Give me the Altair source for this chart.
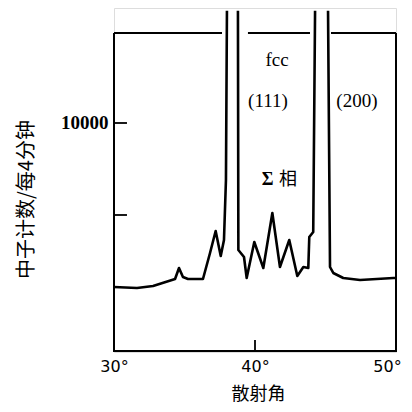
import altair as alt
import pandas as pd

# Curve (scattering angle in degrees, neutron counts per 4 min)
angle = [30.00, 31.63, 32.77, 34.11, 34.33, 34.61, 34.89, 35.25, 36.31, 36.81,
         37.21, 37.57, 37.80, 37.94, 38.01, 38.79, 38.82, 39.22, 39.41, 39.95,
         40.59, 41.23, 41.77, 42.43, 43.00, 43.43, 43.78, 43.85, 44.13, 44.26,
         45.18, 45.32, 45.55, 46.26, 47.45, 49.81, 50.00]
counts = [1087, 1033, 1141, 1467, 1522, 2120, 1630, 1522, 1522, 2935,
          4130, 2772, 3641, 6902, 16100, 16100, 3098, 2717, 1576, 3533,
          2120, 5109, 2174, 3641, 1685, 2174, 2120, 3804, 4076, 16100,
          16100, 2174, 1848, 1576, 1467, 1576, 1576]
# the (111) and (200) peaks run off the top, so the trace is drawn in 3 pieces
segment = [1] * 15 + [2] * 15 + [3] * 7

x_ticks = [30, 40, 50]
y_label_ticks = [10000]
y_minor_ticks = [10000, 5000]

y_min, y_max = -2446, 16250
frame_top = 14891

# Broken top frame (the peaks pass through it)
frame_x = [30.0, 39.50, 45.39]
frame_x2 = [37.66, 43.90, 50.0]

labels = ["fcc", "(111)", "(200)"]
label_x = [41.56, 40.92, 47.23]
label_y = [13424, 11196, 11196]

curve = pd.DataFrame({"angle": angle, "counts": counts, "seg": segment})
curve["idx"] = range(len(curve))

xs = alt.Scale(domain=[30, 50], nice=False, zero=False)
ys = alt.Scale(domain=[y_min, y_max], nice=False, zero=False)

line = alt.Chart(curve).mark_line(color="black", strokeWidth=2.6, strokeJoin="round").encode(
    x=alt.X("angle:Q", scale=xs,
            axis=alt.Axis(values=x_ticks, labelExpr="datum.value + '°'", ticks=False,
                          domain=False, grid=False, labelFont="DejaVu Sans",
                          labelFontSize=16, labelColor="black", labelPadding=6,
                          labelFlush=False,
                          labelOffset={"condition": {"test": "datum.value == 50", "value": -9},
                                       "value": 0},
                          title="散射角", titleFont="Noto Sans CJK SC", titleFontSize=18,
                          titleFontWeight="normal", titleColor="black",
                          titleBaseline="middle", titleY=42, titleX=144)),
    y=alt.Y("counts:Q", scale=ys,
            axis=alt.Axis(values=y_label_ticks, format="d", ticks=False, domain=False,
                          grid=False,
                          labelFont="Liberation Serif", labelFontSize=19,
                          labelFontWeight="bold", labelColor="black", labelPadding=6,
                          title="中子计数/每4分钟", titleFont="Noto Sans CJK SC",
                          titleFontSize=20, titleFontWeight="normal", titleColor="black",
                          titleAngle=270, titleAlign="center", titleBaseline="middle",
                          titleX=-88, titleY=191)),
    detail="seg:N",
    order="idx:Q",
)

top = alt.Chart(pd.DataFrame({"x": frame_x, "x2": frame_x2})).mark_rule(
    color="black", strokeWidth=2).encode(
    x=alt.X("x:Q", scale=xs), x2="x2:Q", y=alt.datum(frame_top, scale=ys))

sides = alt.Chart(pd.DataFrame({"x": [30, 50]})).mark_rule(
    color="black", strokeWidth=2).encode(
    x=alt.X("x:Q", scale=xs), y=alt.datum(y_min, scale=ys), y2=alt.datum(frame_top))

bottom = alt.Chart(pd.DataFrame({"x": [30]})).mark_rule(
    color="black", strokeWidth=2).encode(
    x=alt.X("x:Q", scale=xs), x2=alt.datum(50), y=alt.datum(y_min + 60, scale=ys))

yt = alt.Chart(pd.DataFrame({"y": y_minor_ticks})).mark_rule(
    color="black", strokeWidth=1.8).encode(
    y=alt.Y("y:Q", scale=ys), x=alt.datum(30, scale=xs), x2=alt.datum(30.92))

xt = alt.Chart(pd.DataFrame({"x": [40]})).mark_rule(
    color="black", strokeWidth=1.8).encode(
    x=alt.X("x:Q", scale=xs), y=alt.datum(y_min, scale=ys), y2=alt.datum(y_min + 650))

txt = alt.Chart(pd.DataFrame({"t": labels, "x": label_x, "y": label_y})).mark_text(
    font="Liberation Serif", fontSize=19, color="black").encode(
    x=alt.X("x:Q", scale=xs), y=alt.Y("y:Q", scale=ys), text="t:N")

sigma = alt.Chart(pd.DataFrame({"t": ["Σ"], "x": [40.90], "y": [6902]})).mark_text(
    font="Liberation Serif", fontSize=18, fontWeight="bold", color="black").encode(
    x=alt.X("x:Q", scale=xs), y=alt.Y("y:Q", scale=ys), text="t:N")

xiang = alt.Chart(pd.DataFrame({"t": ["相"], "x": [42.34], "y": [6902]})).mark_text(
    font="Noto Sans CJK SC", fontSize=18, color="black").encode(
    x=alt.X("x:Q", scale=xs), y=alt.Y("y:Q", scale=ys), text="t:N")

chart = alt.layer(line, top, sides, bottom, yt, xt, txt, sigma, xiang).properties(
    width=282, height=344,
    autosize="none",
    padding={"left": 106, "top": 0, "right": 8, "bottom": 52},
).configure_view(stroke=None).configure(background="white")

chart.save("out.html", embed_options={"renderer": "svg", "actions": False})
